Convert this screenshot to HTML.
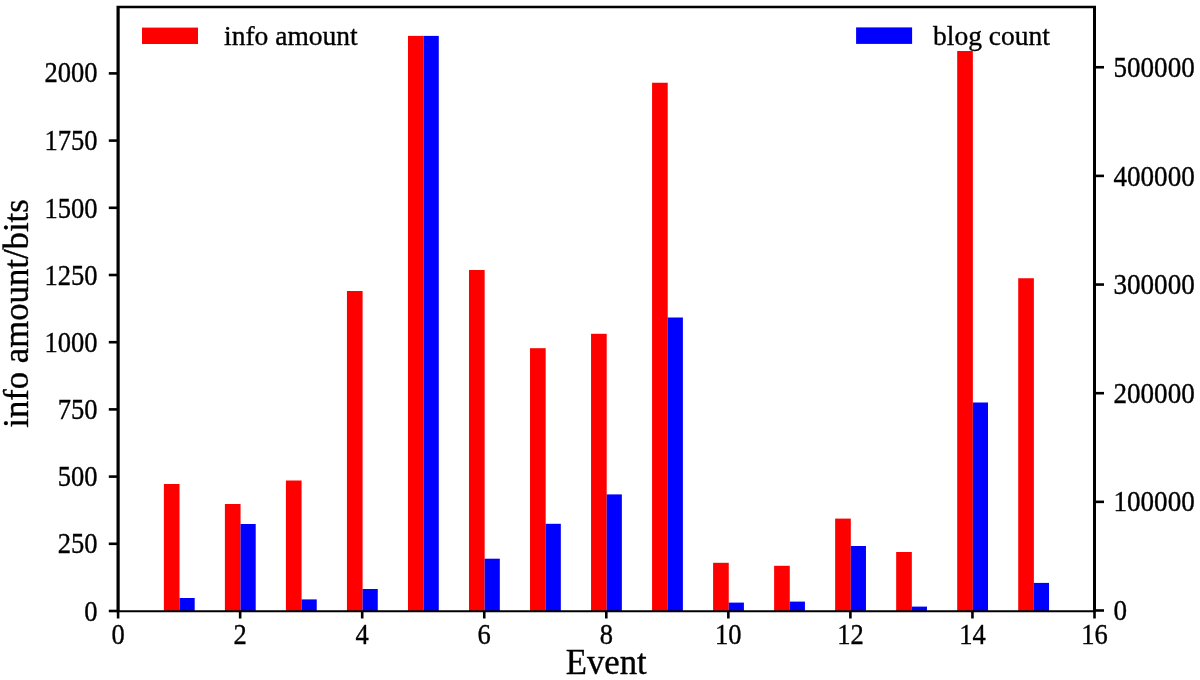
<!DOCTYPE html>
<html><head><meta charset="utf-8"><style>
html,body{margin:0;padding:0;background:#fff;width:1200px;height:680px;overflow:hidden}
svg{display:block;will-change:transform}
text{font-family:"Liberation Serif",serif;fill:#000;stroke:#000;stroke-width:0.35px;paint-order:stroke}
</style></head><body>
<svg width="1200" height="680" viewBox="0 0 1200 680">
<rect x="0" y="0" width="1200" height="680" fill="#fff"/>
<rect x="163.87" y="484.00" width="15.66" height="127.00" fill="#ff0000"/>
<rect x="179.53" y="598.00" width="15.16" height="13.00" fill="#0000ff"/>
<rect x="224.89" y="504.00" width="15.66" height="107.00" fill="#ff0000"/>
<rect x="240.55" y="524.00" width="15.16" height="87.00" fill="#0000ff"/>
<rect x="285.92" y="480.50" width="15.66" height="130.50" fill="#ff0000"/>
<rect x="301.57" y="599.40" width="15.16" height="11.60" fill="#0000ff"/>
<rect x="346.94" y="291.00" width="15.66" height="320.00" fill="#ff0000"/>
<rect x="362.60" y="589.00" width="15.16" height="22.00" fill="#0000ff"/>
<rect x="407.97" y="35.90" width="15.66" height="575.10" fill="#ff0000"/>
<rect x="423.62" y="35.90" width="15.16" height="575.10" fill="#0000ff"/>
<rect x="468.99" y="270.00" width="15.66" height="341.00" fill="#ff0000"/>
<rect x="484.65" y="558.70" width="15.16" height="52.30" fill="#0000ff"/>
<rect x="530.02" y="348.20" width="15.66" height="262.80" fill="#ff0000"/>
<rect x="545.67" y="523.80" width="15.16" height="87.20" fill="#0000ff"/>
<rect x="591.04" y="333.80" width="15.66" height="277.20" fill="#ff0000"/>
<rect x="606.70" y="494.40" width="15.16" height="116.60" fill="#0000ff"/>
<rect x="652.07" y="82.75" width="15.66" height="528.25" fill="#ff0000"/>
<rect x="667.73" y="317.50" width="15.16" height="293.50" fill="#0000ff"/>
<rect x="713.09" y="562.80" width="15.66" height="48.20" fill="#ff0000"/>
<rect x="728.75" y="602.60" width="15.16" height="8.40" fill="#0000ff"/>
<rect x="774.12" y="565.80" width="15.66" height="45.20" fill="#ff0000"/>
<rect x="789.77" y="601.60" width="15.16" height="9.40" fill="#0000ff"/>
<rect x="835.14" y="518.60" width="15.66" height="92.40" fill="#ff0000"/>
<rect x="850.80" y="546.00" width="15.16" height="65.00" fill="#0000ff"/>
<rect x="896.17" y="552.00" width="15.66" height="59.00" fill="#ff0000"/>
<rect x="911.82" y="606.60" width="15.16" height="4.40" fill="#0000ff"/>
<rect x="957.19" y="51.00" width="15.66" height="560.00" fill="#ff0000"/>
<rect x="972.85" y="402.50" width="15.16" height="208.50" fill="#0000ff"/>
<rect x="1018.22" y="278.25" width="15.66" height="332.75" fill="#ff0000"/>
<rect x="1033.88" y="582.90" width="15.16" height="28.10" fill="#0000ff"/>
<g stroke="#000" stroke-width="2.6" fill="none">
<line x1="118.10" y1="611.0" x2="118.10" y2="618.5"/>
<line x1="240.15" y1="611.0" x2="240.15" y2="618.5"/>
<line x1="362.20" y1="611.0" x2="362.20" y2="618.5"/>
<line x1="484.25" y1="611.0" x2="484.25" y2="618.5"/>
<line x1="606.30" y1="611.0" x2="606.30" y2="618.5"/>
<line x1="728.35" y1="611.0" x2="728.35" y2="618.5"/>
<line x1="850.40" y1="611.0" x2="850.40" y2="618.5"/>
<line x1="972.45" y1="611.0" x2="972.45" y2="618.5"/>
<line x1="1094.50" y1="611.0" x2="1094.50" y2="618.5"/>
<line x1="108.8" y1="611.00" x2="118.1" y2="611.00"/>
<line x1="108.8" y1="543.80" x2="118.1" y2="543.80"/>
<line x1="108.8" y1="476.60" x2="118.1" y2="476.60"/>
<line x1="108.8" y1="409.40" x2="118.1" y2="409.40"/>
<line x1="108.8" y1="342.20" x2="118.1" y2="342.20"/>
<line x1="108.8" y1="275.00" x2="118.1" y2="275.00"/>
<line x1="108.8" y1="207.80" x2="118.1" y2="207.80"/>
<line x1="108.8" y1="140.60" x2="118.1" y2="140.60"/>
<line x1="108.8" y1="73.40" x2="118.1" y2="73.40"/>
<line x1="1094.5" y1="610.50" x2="1104.0" y2="610.50"/>
<line x1="1094.5" y1="501.85" x2="1104.0" y2="501.85"/>
<line x1="1094.5" y1="393.20" x2="1104.0" y2="393.20"/>
<line x1="1094.5" y1="284.55" x2="1104.0" y2="284.55"/>
<line x1="1094.5" y1="175.90" x2="1104.0" y2="175.90"/>
<line x1="1094.5" y1="67.25" x2="1104.0" y2="67.25"/>
</g>
<path fill="#000" fill-rule="evenodd" d="M116.50,5.75 H1096.00 V612.25 H116.50 Z M119.70,8.25 V610.15 H1093.00 V8.25 Z"/>
<g font-size="27.5">
<text transform="translate(118.10,644.1) scale(0.965,1.04)" text-anchor="middle">0</text>
<text transform="translate(240.15,644.1) scale(0.965,1.04)" text-anchor="middle">2</text>
<text transform="translate(362.20,644.1) scale(0.965,1.04)" text-anchor="middle">4</text>
<text transform="translate(484.25,644.1) scale(0.965,1.04)" text-anchor="middle">6</text>
<text transform="translate(606.30,644.1) scale(0.965,1.04)" text-anchor="middle">8</text>
<text transform="translate(728.35,644.1) scale(0.965,1.04)" text-anchor="middle">10</text>
<text transform="translate(850.40,644.1) scale(0.965,1.04)" text-anchor="middle">12</text>
<text transform="translate(972.45,644.1) scale(0.965,1.04)" text-anchor="middle">14</text>
<text transform="translate(1094.50,644.1) scale(0.965,1.04)" text-anchor="middle">16</text>
<text transform="translate(97.6,620.60) scale(0.965,1.04)" text-anchor="end">0</text>
<text transform="translate(97.6,553.40) scale(0.965,1.04)" text-anchor="end">250</text>
<text transform="translate(97.6,486.20) scale(0.965,1.04)" text-anchor="end">500</text>
<text transform="translate(97.6,419.40) scale(0.965,1.04)" text-anchor="end">750</text>
<text transform="translate(97.6,351.80) scale(0.965,1.04)" text-anchor="end">1000</text>
<text transform="translate(97.6,284.60) scale(0.965,1.04)" text-anchor="end">1250</text>
<text transform="translate(97.6,218.20) scale(0.965,1.04)" text-anchor="end">1500</text>
<text transform="translate(97.6,150.20) scale(0.965,1.04)" text-anchor="end">1750</text>
<text transform="translate(97.6,82.00) scale(0.965,1.04)" text-anchor="end">2000</text>
<text transform="translate(1113.5,620.00) scale(0.985,1.04)" text-anchor="start">0</text>
<text transform="translate(1113.5,511.35) scale(0.985,1.04)" text-anchor="start">100000</text>
<text transform="translate(1113.5,402.70) scale(0.985,1.04)" text-anchor="start">200000</text>
<text transform="translate(1113.5,294.05) scale(0.985,1.04)" text-anchor="start">300000</text>
<text transform="translate(1113.5,186.10) scale(0.985,1.04)" text-anchor="start">400000</text>
<text transform="translate(1113.5,76.75) scale(0.985,1.04)" text-anchor="start">500000</text>
</g>
<rect x="142" y="27.6" width="56" height="16.4" fill="#ff0000"/>
<text x="224" y="44.7" font-size="27.5">info amount</text>
<rect x="856.1" y="27.4" width="56" height="16.5" fill="#0000ff"/>
<text x="933" y="44.8" font-size="27.5">blog count</text>
<text transform="translate(606.3,673.9) scale(1,1.04)" font-size="34.7" text-anchor="middle">Event</text>
<text transform="translate(27.9,313.5) rotate(-90) scale(1,1.04)" font-size="34.7" text-anchor="middle">info amount/bits</text>
</svg>
</body></html>
